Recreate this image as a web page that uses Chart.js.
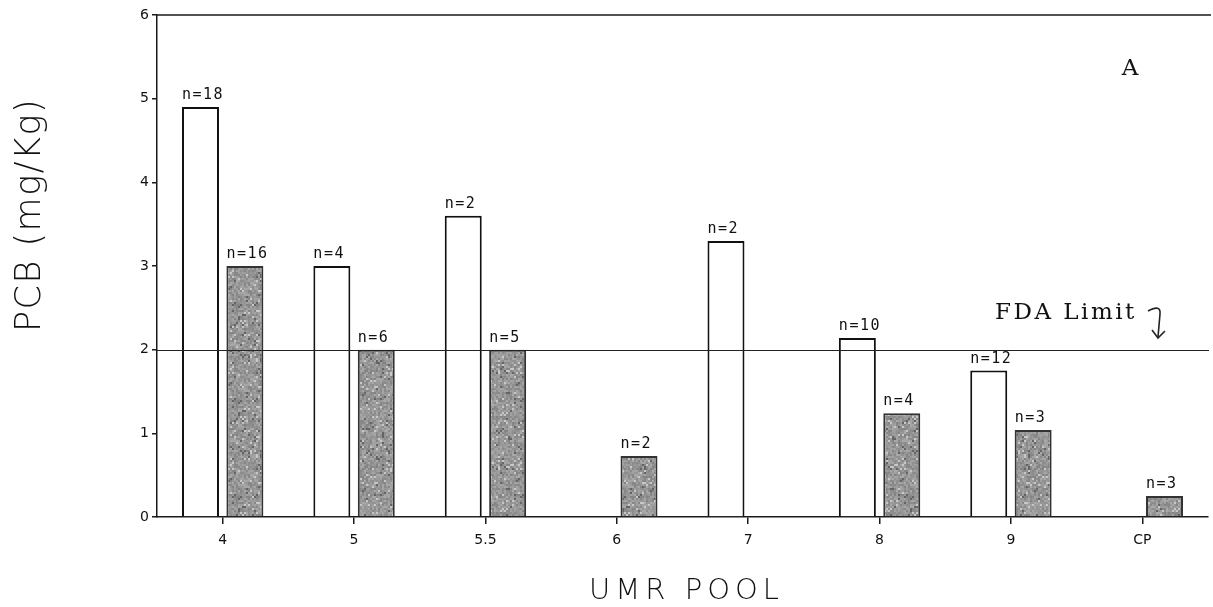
<!DOCTYPE html>
<html>
<head>
<meta charset="utf-8">
<script src="https://cdn.jsdelivr.net/npm/chart.js@4/dist/chart.umd.min.js"></script>
<style>
  html, body { margin: 0; padding: 0; background: #ffffff; }
  canvas { display: block; }
</style>
</head>
<body>
<canvas id="pcb" width="1213" height="607"></canvas>
<script>
// UMR pools along the x axis
const pools = ['4', '5', '5.5', '6', '7', '8', '9', 'CP'];
// Mean PCB concentration (mg/kg), open bars and shaded bars
const openValues   = [4.9, 3.0, 3.6, null, 3.3, 2.14, 1.75, null];
const shadedValues = [3.0, 2.0, 2.0, 0.73, null, 1.24, 1.04, 0.25];
// Sample sizes printed above each bar
const openCounts   = [18, 4, 2, null, 2, 10, 12, null];
const shadedCounts = [16, 6, 5, 2, null, 4, 3, 3];
// Value axis ticks and the FDA tolerance level
const yTicks = [0, 1, 2, 3, 4, 5, 6];
const fdaLimit = 2;

// Mottled grey fill for the shaded bars (deterministic hash noise, 2px grain)
function makeSpeckle() {
  const size = 96, grain = 2;
  const c = document.createElement('canvas');
  c.width = size; c.height = size;
  const g = c.getContext('2d');
  let s = 1234567;
  const rnd = () => { s = (s * 1103515245 + 12345) & 0x7fffffff; return s / 0x7fffffff; };
  for (let yy = 0; yy < size; yy += grain) {
    for (let xx = 0; xx < size; xx += grain) {
      const r = rnd();
      let v = 150 + (r - 0.5) * 45;
      if (r > 0.94) v = 200;
      if (r < 0.05) v = 100;
      v = Math.round(v);
      g.fillStyle = 'rgb(' + v + ',' + v + ',' + v + ')';
      g.fillRect(xx, yy, grain, grain);
    }
  }
  return g.createPattern(c, 'repeat');
}

const ctx = document.getElementById('pcb').getContext('2d');
const speckle = makeSpeckle();

const plotterFont = '"DejaVu Sans Mono", monospace';
const typewriterFont = '"DejaVu Serif", serif';

const annotations = {
  id: 'annotations',
  afterDatasetsDraw(chart) {
    const { ctx, chartArea, scales } = chart;
    const y = scales.y;
    ctx.save();

    // frame line along the top
    ctx.strokeStyle = '#1a1a1a';
    ctx.lineWidth = 1.5;
    ctx.beginPath();
    ctx.moveTo(chartArea.left, chartArea.top);
    ctx.lineTo(chart.width - 2, chartArea.top);
    ctx.stroke();

    // FDA limit line
    const yf = Math.round(y.getPixelForValue(fdaLimit)) + 0.5;
    ctx.strokeStyle = '#222';
    ctx.lineWidth = 1.2;
    ctx.beginPath();
    ctx.moveTo(chartArea.left, yf);
    ctx.lineTo(chart.width - 4, yf);
    ctx.stroke();

    // sample-size labels
    ctx.fillStyle = '#111';
    ctx.font = '15px ' + plotterFont;
    ctx.textAlign = 'left';
    ctx.textBaseline = 'alphabetic';
    if ('letterSpacing' in ctx) ctx.letterSpacing = '1.5px';
    const counts = [openCounts, shadedCounts];
    chart.data.datasets.forEach((ds, di) => {
      const meta = chart.getDatasetMeta(di);
      meta.data.forEach((bar, i) => {
        const n = counts[di][i];
        if (n == null || ds.data[i] == null) return;
        const left = bar.x - bar.width / 2;
        ctx.fillText('n=' + n, left, bar.y - 8);
      });
    });

    // "FDA Limit" note with hooked arrow
    ctx.font = '23px ' + typewriterFont;
    if ('letterSpacing' in ctx) ctx.letterSpacing = '2.5px';
    ctx.fillText('FDA Limit', 995, 319);
    ctx.strokeStyle = '#222';
    ctx.lineWidth = 1.6;
    ctx.beginPath();
    ctx.moveTo(1148, 311);
    ctx.quadraticCurveTo(1161, 304, 1160, 314);
    ctx.lineTo(1158, 337);
    ctx.stroke();
    ctx.beginPath();
    ctx.moveTo(1152, 330);
    ctx.lineTo(1158, 338);
    ctx.lineTo(1165, 331);
    ctx.stroke();

    // panel letter
    ctx.font = '23px ' + typewriterFont;
    if ('letterSpacing' in ctx) ctx.letterSpacing = '0px';
    ctx.textAlign = 'center';
    ctx.fillText('A', 1130, 75);

    // axis titles
    ctx.font = '200 29px "DejaVu Sans", sans-serif';
    if ('letterSpacing' in ctx) ctx.letterSpacing = '5px';
    ctx.textBaseline = 'middle';
    ctx.fillStyle = '#111';
    ctx.fillText('UMR POOL', (chartArea.left + chartArea.right) / 2 + 4, 591);
    ctx.translate(31, 215);
    ctx.rotate(-Math.PI / 2);
    ctx.font = '200 35px "DejaVu Sans", sans-serif';
    if ('letterSpacing' in ctx) ctx.letterSpacing = '1.5px';
    ctx.fillText('PCB (mg/Kg)', 0, 0);

    ctx.restore();
  }
};

new Chart(ctx, {
  type: 'bar',
  data: {
    labels: pools,
    datasets: [
      {
        label: 'open',
        data: openValues,
        backgroundColor: '#ffffff',
        borderColor: '#111111',
        borderWidth: 2,
        borderSkipped: 'bottom'
      },
      {
        label: 'shaded',
        data: shadedValues,
        backgroundColor: speckle,
        borderColor: '#333333',
        borderWidth: 2,
        borderSkipped: 'bottom'
      }
    ]
  },
  options: {
    responsive: false,
    animation: false,
    layout: { padding: { top: 15, right: 5, left: 0, bottom: 0 } },
    categoryPercentage: 0.676,
    barPercentage: 0.833,
    plugins: {
      legend: { display: false },
      tooltip: { enabled: false },
      title: { display: false }
    },
    scales: {
      x: {
        grid: { display: true, offset: false, drawOnChartArea: false, drawTicks: true, tickLength: 7, color: '#1a1a1a', lineWidth: 1.5 },
        border: { display: true, color: '#1a1a1a', width: 1.5 },
        ticks: { color: '#111', font: { family: '"DejaVu Sans", sans-serif', size: 14 }, padding: 8 },
        afterFit(scale) { scale.height = 90; }
      },
      y: {
        min: 0,
        max: 6,
        afterBuildTicks(scale) { scale.ticks = yTicks.map(v => ({ value: v })); },
        grid: { display: true, drawOnChartArea: false, drawTicks: true, tickLength: 5, color: '#1a1a1a', lineWidth: 1.5 },
        border: { display: true, color: '#1a1a1a', width: 1.5 },
        ticks: { color: '#111', font: { family: '"DejaVu Sans", sans-serif', size: 14 }, padding: 3 },
        afterFit(scale) { scale.width = 157; }
      }
    }
  },
  plugins: [annotations]
});
</script>
</body>
</html>
